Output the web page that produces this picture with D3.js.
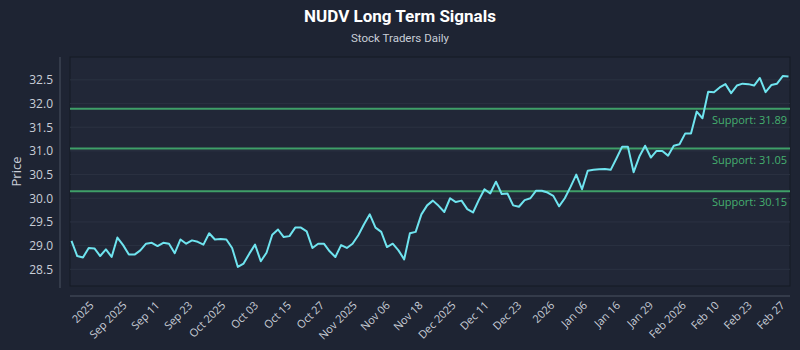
<!DOCTYPE html>
<html>
<head>
<meta charset="utf-8">
<script src="https://cdn.jsdelivr.net/npm/d3@7"></script>
<style>
  html, body { margin: 0; padding: 0; background: #1e2433; }
  svg { display: block; }
</style>
</head>
<body>
<svg id="chart" width="800" height="350"></svg>
<script>
// ---- Data ----
const prices = [
  29.10, 28.78, 28.75, 28.95, 28.94, 28.78, 28.92, 28.76, 29.17, 29.01,
  28.81, 28.81, 28.90, 29.04, 29.06, 28.99, 29.06, 29.04, 28.84, 29.13,
  29.04, 29.11, 29.08, 29.02, 29.26, 29.13, 29.14, 29.13, 28.95, 28.55,
  28.62, 28.83, 29.02, 28.67, 28.85, 29.23, 29.34, 29.18, 29.20, 29.38,
  29.38, 29.30, 28.95, 29.04, 29.04, 28.88, 28.76, 29.01, 28.95, 29.04,
  29.22, 29.45, 29.66, 29.38, 29.29, 28.97, 29.04, 28.90, 28.71, 29.26,
  29.29, 29.66, 29.85, 29.95, 29.84, 29.71, 30.00, 29.92, 29.95, 29.77,
  29.70, 29.96, 30.19, 30.10, 30.35, 30.09, 30.10, 29.85, 29.82, 29.96,
  30.00, 30.16, 30.16, 30.12, 30.05, 29.83, 30.00, 30.24, 30.50, 30.19,
  30.58, 30.60, 30.61, 30.62, 30.60, 30.84, 31.09, 31.09, 30.55, 30.88,
  31.11, 30.86, 31.00, 31.00, 30.90, 31.11, 31.14, 31.37, 31.37, 31.83,
  31.69, 32.25, 32.24, 32.34, 32.41, 32.22, 32.38, 32.42, 32.41, 32.38,
  32.54, 32.24, 32.39, 32.42, 32.58, 32.57
];
const xTickLabels = [
  "2025", "Sep 2025", "Sep 11", "Sep 23", "Oct 2025", "Oct 03", "Oct 15", "Oct 27",
  "Nov 2025", "Nov 06", "Nov 18", "Dec 2025", "Dec 11", "Dec 23", "2026", "Jan 06",
  "Jan 16", "Jan 29", "Feb 2026", "Feb 10", "Feb 23", "Feb 27"
];
const yTicks = [28.5, 29.0, 29.5, 30.0, 30.5, 31.0, 31.5, 32.0, 32.5];
const supportLevels = [31.89, 31.05, 30.15];
const titleText = "NUDV Long Term Signals";
const subtitleText = "Stock Traders Daily";
const yAxisLabel = "Price";

// ---- Layout ----
const W = 800, H = 350;
const plot = { left: 70, right: 790, top: 57, bottom: 286 };

const svg = d3.select("#chart");

svg.append("rect").attr("width", W).attr("height", H).attr("fill", "#1e2433");

// plot background
svg.append("rect")
  .attr("x", plot.left).attr("y", plot.top)
  .attr("width", plot.right - plot.left).attr("height", plot.bottom - plot.top)
  .attr("fill", "#212737").attr("stroke", "#151a25").attr("stroke-width", 1);

const minV = d3.min(prices), maxV = d3.max(prices);
const pad = (maxV - minV) * 0.1;

const x = d3.scaleLinear().domain([0, prices.length - 1]).range([plot.left + 1.5, plot.right - 1.5]);
const y = d3.scaleLinear().domain([minV - pad, maxV + pad]).range([plot.bottom, plot.top]);
const xTicks = d3.scalePoint().domain(xTickLabels).range([95, 786]);

// gridlines
svg.append("g")
  .selectAll("line").data(yTicks).join("line")
  .attr("x1", plot.left).attr("x2", plot.right)
  .attr("y1", d => y(d)).attr("y2", d => y(d))
  .attr("stroke", "#2b3242").attr("stroke-width", 1);

// y axis
const yAxis = svg.append("g")
  .attr("transform", `translate(60,0)`)
  .call(d3.axisLeft(y).tickValues(yTicks).tickFormat(d3.format(".1f")).tickSize(0).tickPadding(7));
yAxis.select(".domain").attr("stroke", "#4a5263").attr("d", `M0,${plot.top}V${plot.bottom + 2}`);
yAxis.selectAll("text").attr("fill", "#c9ced8").style("font-family", "'Open Sans', sans-serif").style("font-size", "12px");

// x axis
const xAxis = svg.append("g")
  .attr("transform", `translate(0,296)`)
  .call(d3.axisBottom(xTicks).tickSize(0).tickPadding(0));
xAxis.select(".domain").attr("stroke", "#4a5263").attr("d", `M${plot.left},0H${plot.right}`);
xAxis.selectAll("text")
  .attr("fill", "#c9ced8")
  .style("font-family", "'Open Sans', sans-serif").style("font-size", "11px")
  .attr("text-anchor", "end")
  .attr("dy", "0")
  .attr("y", 0)
  .attr("transform", "translate(-1,10) rotate(-45)");

// support lines
const sup = svg.append("g");
sup.selectAll("line").data(supportLevels).join("line")
  .attr("x1", plot.left).attr("x2", plot.right)
  .attr("y1", d => y(d)).attr("y2", d => y(d))
  .attr("stroke", "#3f9f68").attr("stroke-width", 2);
sup.selectAll("text").data(supportLevels).join("text")
  .attr("x", plot.right - 3).attr("y", d => y(d) + 15)
  .attr("text-anchor", "end")
  .attr("fill", "#45b06f")
  .style("font-family", "'Open Sans', sans-serif").style("font-size", "11px")
  .text(d => `Support: ${d.toFixed(2)}`);

// price line
svg.append("path")
  .datum(prices)
  .attr("fill", "none")
  .attr("stroke", "#6fe4ef")
  .attr("stroke-width", 2)
  .attr("stroke-linejoin", "round")
  .attr("d", d3.line().x((d, i) => x(i)).y(d => y(d)));

// titles
svg.append("text").attr("x", 400).attr("y", 22).attr("text-anchor", "middle")
  .attr("fill", "#ffffff").style("font-family", "Roboto, sans-serif")
  .style("font-weight", "bold").style("font-size", "17px").text(titleText);
svg.append("text").attr("x", 400).attr("y", 42).attr("text-anchor", "middle")
  .attr("fill", "#c9ced8").style("font-family", "Roboto, sans-serif")
  .style("font-size", "11.5px").text(subtitleText);

svg.append("text")
  .attr("transform", `translate(21,${(plot.top + plot.bottom) / 2}) rotate(-90)`)
  .attr("text-anchor", "middle")
  .attr("fill", "#c9ced8").style("font-family", "'Open Sans', sans-serif")
  .style("font-size", "13px").text(yAxisLabel);
</script>
</body>
</html>
